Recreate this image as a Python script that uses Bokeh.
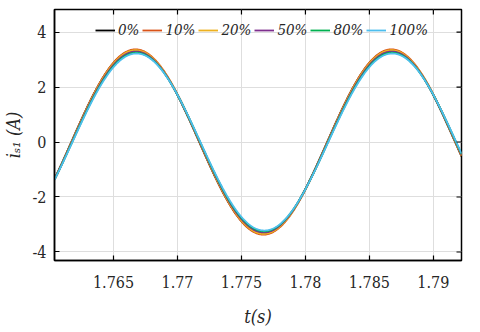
import numpy as np
from bokeh.plotting import figure
from bokeh.models import Range1d, FixedTicker, Legend, LegendItem
from bokeh.embed import file_html
from bokeh.resources import INLINE

# ---- data ----
series_labels = ["0%", "10%", "20%", "50%", "80%", "100%"]
series_colors = ["#000000", "#D95319", "#EDB120", "#7E2F8E", "#00B050", "#4DBEEE"]
peak_amplitude = [3.34, 3.37, 3.34, 3.29, 3.25, 3.22]      # A
peak_lag = [0.0, 0.00002, 0.00003, 0.00005, 0.00007, 0.00009]  # s
first_peak_time = 1.7667   # s
frequency = 50.0           # Hz
x_ticks = [1.765, 1.77, 1.775, 1.78, 1.785, 1.79]
x_tick_labels = ["1.765", "1.77", "1.775", "1.78", "1.785", "1.79"]
y_ticks = [-4, -2, 0, 2, 4]
y_tick_labels = ["-4", "-2", "0", "2", "4"]
x_start, x_end = 1.760385, 1.7922
y_start, y_end = -4.31, 4.82

FONT = "DejaVu Serif Condensed"
TXT = "#262626"

p = figure(width=464, height=332, output_backend="svg", toolbar_location=None,
           x_range=Range1d(x_start, x_end), y_range=Range1d(y_start, y_end),
           min_border_left=48, min_border_right=3, min_border_top=9, min_border_bottom=72)
p.background_fill_color = "white"
p.border_fill_color = "white"
p.outline_line_color = "black"
p.outline_line_width = 1.5

t = np.linspace(x_start, x_end, 800)
items = []
for lab, col, a, lag in zip(series_labels, series_colors, peak_amplitude, peak_lag):
    y = a * np.cos(2 * np.pi * frequency * (t - first_peak_time - lag))
    r = p.line(t, y, line_color=col, line_width=1.8)
    items.append(LegendItem(label=lab, renderers=[r]))

def style_axis(ax, ticks, labels):
    ax.ticker = FixedTicker(ticks=ticks)
    ax.major_label_overrides = {k: v for k, v in zip(ticks, labels)}
    ax.major_tick_in = 5
    ax.major_tick_out = 0
    ax.minor_tick_line_color = None
    ax.major_tick_line_color = "black"
    ax.major_tick_line_width = 1.2
    ax.axis_line_color = "black"
    ax.axis_line_width = 1.5
    ax.major_label_text_font = FONT
    ax.major_label_text_color = TXT
    ax.major_label_text_font_size = "16px"
    ax.axis_label_text_font = FONT
    ax.axis_label_text_font_style = "italic"
    ax.axis_label_text_font_size = "18px"
    ax.axis_label_text_color = TXT

xa = p.xaxis[0]
style_axis(xa, x_ticks, x_tick_labels)
xa.major_label_standoff = 15
xa.axis_label = "t(s)"
xa.axis_label_standoff = 15

ya = p.yaxis[0]
style_axis(ya, y_ticks, y_tick_labels)
ya.major_label_standoff = 8
ya.axis_label = "iₛ₁ (A)"
ya.axis_label_standoff = 5

# inward tick marks on the top and right frame edges
p.scatter(x=x_ticks, y=[y_end] * len(x_ticks), marker="dash", angle=np.pi / 2,
          size=10, line_color="black", line_width=1.2)
p.scatter(x=[x_end] * len(y_ticks), y=y_ticks, marker="dash",
          size=10, line_color="black", line_width=1.2)

p.xgrid.ticker = FixedTicker(ticks=x_ticks)
p.ygrid.ticker = FixedTicker(ticks=y_ticks)
p.grid.grid_line_color = "#dedede"
p.grid.grid_line_width = 1

legend = Legend(items=items, orientation="horizontal", location=(41, 221),
                glyph_width=20, glyph_height=18, label_height=18, label_standoff=3,
                spacing=3, padding=0, margin=0,
                label_text_font=FONT, label_text_font_style="italic",
                label_text_font_size="15px", label_text_color=TXT,
                background_fill_alpha=0, border_line_color=None)
p.add_layout(legend, "center")

open("out.html", "w").write(file_html(p, INLINE))
